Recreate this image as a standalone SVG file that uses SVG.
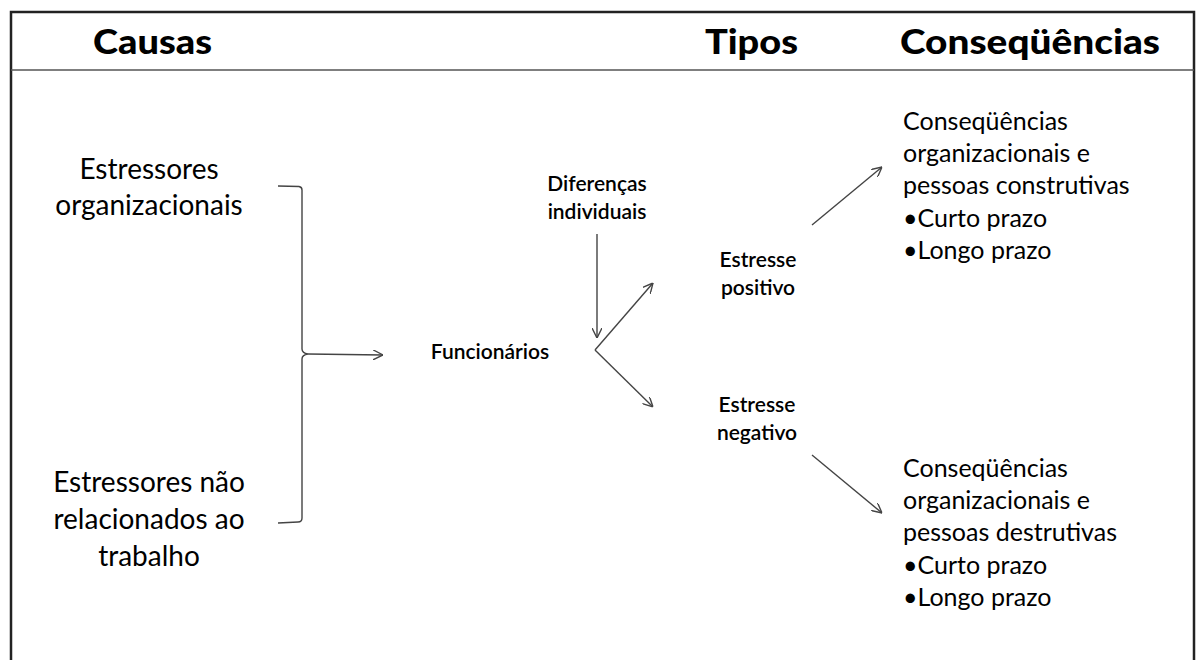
<svg xmlns="http://www.w3.org/2000/svg" width="1197" height="660" viewBox="0 0 1197 660">
<defs>
<style>
text{font-family:Lato,"Open Sans","Liberation Sans",sans-serif;fill:#000}
.h{font-weight:900;font-size:34px}
.l{font-size:28px}
.m{font-size:21px;font-weight:600}
.r{font-size:25px}
.c{stroke:#444;stroke-width:1.4;fill:none}
</style>
<marker id="ah" viewBox="0 0 10 10" refX="10" refY="5" markerWidth="10" markerHeight="10" markerUnits="userSpaceOnUse" orient="auto">
<path d="M0,0 L10,5 L0,10" fill="none" stroke="#444" stroke-width="1.4"/>
</marker>
</defs>
<rect width="1197" height="660" fill="#fff"/>
<g id="frame">
<path d="M11,662 V12 H1194 V662" fill="none" stroke="#222" stroke-width="2.5"/>
<line x1="11" y1="70" x2="1194" y2="70" stroke="#555" stroke-width="1.5"/>
</g>
<g id="headers">
<text class="h" x="93" y="54" textLength="119" lengthAdjust="spacingAndGlyphs">Causas</text>
<text class="h" x="705" y="54" textLength="93" lengthAdjust="spacingAndGlyphs">Tipos</text>
<text class="h" x="900" y="54" textLength="260" lengthAdjust="spacingAndGlyphs">Conseqüências</text>
</g>
<g id="estressores-org">
<text class="l" x="149" y="179" text-anchor="middle">Estressores</text>
<text class="l" x="149" y="215" text-anchor="middle">organizacionais</text>
</g>
<g id="estressores-nao">
<text class="l" x="149" y="492" text-anchor="middle">Estressores não</text>
<text class="l" x="149" y="529" text-anchor="middle">relacionados ao</text>
<text class="l" x="149" y="566" text-anchor="middle">trabalho</text>
</g>
<g id="funcionarios">
<text class="m" x="490" y="359" text-anchor="middle">Funcionários</text>
</g>
<g id="diferencas">
<text class="m" x="597" y="191" text-anchor="middle">Diferenças</text>
<text class="m" x="597" y="219" text-anchor="middle">individuais</text>
</g>
<g id="estresse-positivo">
<text class="m" x="758" y="267" text-anchor="middle">Estresse</text>
<text class="m" x="758" y="295" text-anchor="middle">positivo</text>
</g>
<g id="estresse-negativo">
<text class="m" x="757" y="412" text-anchor="middle">Estresse</text>
<text class="m" x="757" y="440" text-anchor="middle">negativo</text>
</g>
<g id="consequencias-construtivas">
<text class="r" x="903" y="130">Conseqüências</text>
<text class="r" x="903" y="162">organizacionais e</text>
<text class="r" x="903" y="194">pessoas construtivas</text>
<text class="r" x="903" y="227">•Curto prazo</text>
<text class="r" x="903" y="259">•Longo prazo</text>
</g>
<g id="consequencias-destrutivas">
<text class="r" x="903" y="477">Conseqüências</text>
<text class="r" x="903" y="509">organizacionais e</text>
<text class="r" x="903" y="541">pessoas destrutivas</text>
<text class="r" x="903" y="574">•Curto prazo</text>
<text class="r" x="903" y="606">•Longo prazo</text>
</g>
<g id="connectors">
<path class="c" d="M278,186 L299,186.5 Q302,187 302,190 L302,349 Q302,353 308,354 Q302,355 302,359 L302,518 Q302,522 298,522 L278,523"/>
<line class="c" x1="308" y1="354" x2="383" y2="355" marker-end="url(#ah)"/>
<line class="c" x1="597" y1="234" x2="597" y2="338" marker-end="url(#ah)"/>
<line class="c" x1="595" y1="350" x2="653" y2="283" marker-end="url(#ah)"/>
<line class="c" x1="595" y1="350" x2="653" y2="407" marker-end="url(#ah)"/>
<line class="c" x1="812" y1="225" x2="882" y2="167" marker-end="url(#ah)"/>
<line class="c" x1="812" y1="455" x2="882" y2="513" marker-end="url(#ah)"/>
</g>
</svg>
